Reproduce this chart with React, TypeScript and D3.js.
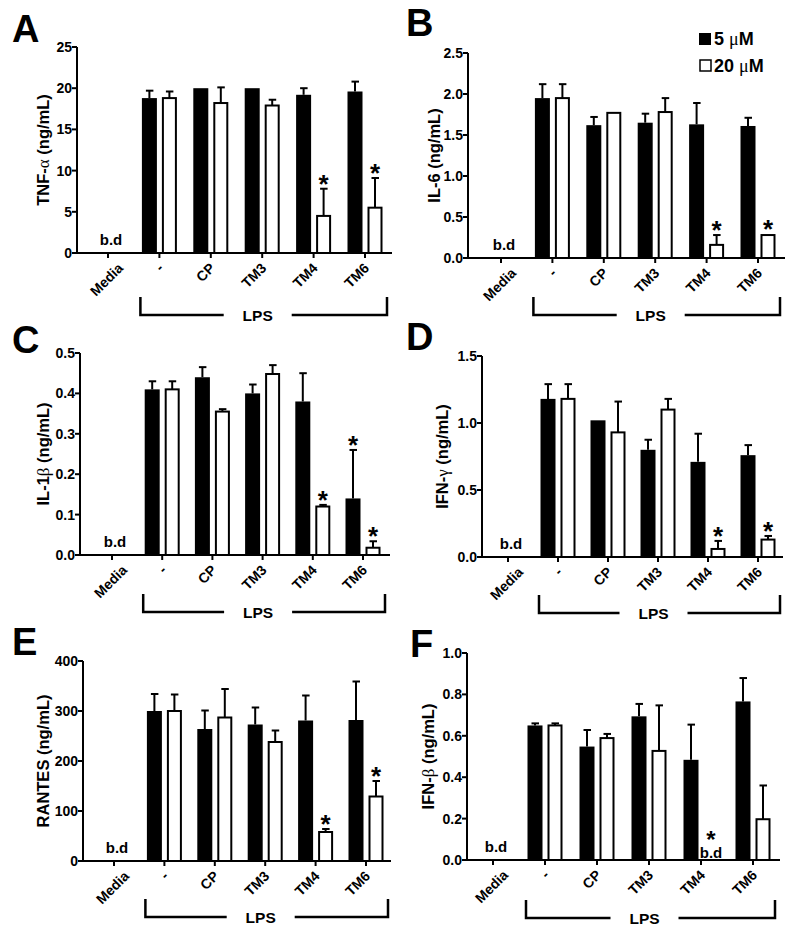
import React from "react";
import * as d3 from "d3";

// ---------- data ----------
const categories = ["Media", "-", "CP", "TM3", "TM4", "TM6"];
const doses = ["5 μM", "20 μM"];

// null = below detection (b.d)
const tnfMean5 = [null, 18.8, 20.0, 20.0, 19.2, 19.6];
const tnfErr5 = [null, 0.9, 0, 0, 0.8, 1.2];
const tnfMean20 = [null, 18.8, 18.2, 17.9, 4.5, 5.5];
const tnfErr20 = [null, 0.8, 1.9, 0.7, 3.3, 3.6];
const tnfStar5 = [false, false, false, false, false, false];
const tnfStar20 = [false, false, false, false, true, true];
const tnfTicks = [0, 5, 10, 15, 20, 25];

const il6Mean5 = [null, 1.95, 1.62, 1.65, 1.63, 1.61];
const il6Err5 = [null, 0.17, 0.1, 0.11, 0.26, 0.1];
const il6Mean20 = [null, 1.95, 1.77, 1.78, 0.16, 0.28];
const il6Err20 = [null, 0.17, 0, 0.17, 0.12, 0.01];
const il6Star5 = [false, false, false, false, false, false];
const il6Star20 = [false, false, false, false, true, true];
const il6Ticks = [0, 0.5, 1.0, 1.5, 2.0, 2.5];

const il1Mean5 = [null, 0.41, 0.44, 0.4, 0.38, 0.14];
const il1Err5 = [null, 0.02, 0.025, 0.022, 0.07, 0.12];
const il1Mean20 = [null, 0.41, 0.355, 0.448, 0.12, 0.018];
const il1Err20 = [null, 0.02, 0.006, 0.022, 0.004, 0.016];
const il1Star5 = [false, false, false, false, false, true];
const il1Star20 = [false, false, false, false, true, true];
const il1Ticks = [0, 0.1, 0.2, 0.3, 0.4, 0.5];

const ifngMean5 = [null, 1.18, 1.02, 0.8, 0.71, 0.76];
const ifngErr5 = [null, 0.11, 0.005, 0.075, 0.21, 0.075];
const ifngMean20 = [null, 1.18, 0.93, 1.1, 0.06, 0.13];
const ifngErr20 = [null, 0.11, 0.23, 0.08, 0.06, 0.027];
const ifngStar5 = [false, false, false, false, false, false];
const ifngStar20 = [false, false, false, false, true, true];
const ifngTicks = [0, 0.5, 1.0, 1.5];

const rantesMean5 = [null, 300, 264, 273, 281, 282];
const rantesErr5 = [null, 34, 37, 34, 50, 77];
const rantesMean20 = [null, 300, 287, 238, 58, 129];
const rantesErr20 = [null, 33, 57, 23, 6, 31];
const rantesStar5 = [false, false, false, false, false, false];
const rantesStar20 = [false, false, false, false, true, true];
const rantesTicks = [0, 100, 200, 300, 400];

const ifnbMean5 = [null, 0.65, 0.548, 0.694, 0.484, 0.766];
const ifnbErr5 = [null, 0.01, 0.08, 0.06, 0.17, 0.113];
const ifnbMean20 = [null, 0.65, 0.589, 0.527, null, 0.197];
const ifnbErr20 = [null, 0.01, 0.02, 0.22, null, 0.163];
const ifnbStar5 = [false, false, false, false, false, false];
const ifnbStar20 = [false, false, false, false, true, false];
const ifnbTicks = [0, 0.2, 0.4, 0.6, 0.8, 1.0];

const panelLetters = ["A", "B", "C", "D", "E", "F"];
const yLabelPre = ["TNF-", "IL-6 (ng/mL)", "IL-1", "IFN-", "RANTES (ng/mL)", "IFN-"];
const yLabelGreek = ["α", "", "β", "γ", "", "β"];
const yLabelPost = [" (ng/mL)", "", " (ng/mL)", " (ng/mL)", "", " (ng/mL)"];
const tickFormats = ["d", ".1f", ".1f", ".1f", "d", ".1f"];
const groupLabel = "LPS";
const bdLabel = "b.d";

// ---------- layout (positions only) ----------
const layouts = [
  { x0: 77, xEnd: 392, c0: 108, c5: 365, yTop: 47, y0: 253, labelX: 43, letterX: 12, letterY: 42, bracketY: 315 },
  { x0: 468, xEnd: 785, c0: 501, c5: 758, yTop: 53, y0: 258, labelX: 434, letterX: 406, letterY: 36, bracketY: 315 },
  { x0: 80, xEnd: 390, c0: 112, c5: 363, yTop: 353, y0: 555, labelX: 43, letterX: 12, letterY: 353, bracketY: 612 },
  { x0: 482, xEnd: 783, c0: 508, c5: 758, yTop: 356, y0: 557, labelX: 442, letterX: 406, letterY: 350, bracketY: 613 },
  { x0: 83, xEnd: 391, c0: 114, c5: 366, yTop: 661, y0: 861, labelX: 43, letterX: 12, letterY: 655, bracketY: 917 },
  { x0: 467, xEnd: 780, c0: 493, c5: 753, yTop: 653, y0: 860, labelX: 428, letterX: 410, letterY: 657, bracketY: 918 },
];

const panelData = [
  { m5: tnfMean5, e5: tnfErr5, m20: tnfMean20, e20: tnfErr20, s5: tnfStar5, s20: tnfStar20, ticks: tnfTicks },
  { m5: il6Mean5, e5: il6Err5, m20: il6Mean20, e20: il6Err20, s5: il6Star5, s20: il6Star20, ticks: il6Ticks },
  { m5: il1Mean5, e5: il1Err5, m20: il1Mean20, e20: il1Err20, s5: il1Star5, s20: il1Star20, ticks: il1Ticks },
  { m5: ifngMean5, e5: ifngErr5, m20: ifngMean20, e20: ifngErr20, s5: ifngStar5, s20: ifngStar20, ticks: ifngTicks },
  { m5: rantesMean5, e5: rantesErr5, m20: rantesMean20, e20: rantesErr20, s5: rantesStar5, s20: rantesStar20, ticks: rantesTicks },
  { m5: ifnbMean5, e5: ifnbErr5, m20: ifnbMean20, e20: ifnbErr20, s5: ifnbStar5, s20: ifnbStar20, ticks: ifnbTicks },
];

const FONT = "'Liberation Sans', Arial, Helvetica, sans-serif";
const SERIF = "'Liberation Serif', 'Times New Roman', serif";

function Panel({ idx }: { idx: number }) {
  const L = layouts[idx];
  const D = panelData[idx];
  const x = d3.scalePoint<string>().domain(categories).range([L.c0, L.c5]);
  const yMax = D.ticks[D.ticks.length - 1];
  const y = d3.scaleLinear().domain([0, yMax]).range([L.y0, L.yTop]);
  const sub = d3.scaleBand<string>().domain(doses).range([-17.5, 17.5]).paddingInner(0.25);
  const bw = sub.bandwidth();
  const fmt = d3.format(tickFormats[idx]);

  const series = [
    { dose: doses[0], m: D.m5, e: D.e5, s: D.s5, filled: true },
    { dose: doses[1], m: D.m20, e: D.e20, s: D.s20, filled: false },
  ];

  const els: any[] = [];

  categories.forEach((c, i) => {
    const cx = x(c)!;
    const bothNull = D.m5[i] == null && D.m20[i] == null;
    if (bothNull) {
      els.push(
        <text key={`bd-${i}`} x={cx + 3} y={L.y0 - 8} textAnchor="middle" fontSize={15} fontWeight="bold" fontFamily={FONT}>
          {bdLabel}
        </text>
      );
      return;
    }
    series.forEach((s, si) => {
      const v = s.m[i];
      const bx = cx + sub(s.dose)!;
      const bc = bx + bw / 2;
      if (v == null) {
        els.push(
          <text key={`bd-${i}-${si}`} x={bc} y={L.y0 - 2} textAnchor="middle" fontSize={15} fontWeight="bold" fontFamily={FONT}>
            {bdLabel}
          </text>
        );
        if (s.s[i]) {
          els.push(
            <text key={`st-${i}-${si}`} x={bc} y={L.y0 - 12} textAnchor="middle" fontSize={24} fontWeight="bold" fontFamily={FONT}>
              *
            </text>
          );
        }
        return;
      }
      const top = y(v);
      if (s.filled) {
        els.push(<rect key={`b-${i}-${si}`} x={bx} y={top} width={bw} height={L.y0 - top} fill="#000" />);
      } else {
        els.push(
          <rect key={`b-${i}-${si}`} x={bx + 1} y={top} width={bw - 2} height={L.y0 - top} fill="#fff" stroke="#000" strokeWidth={2} />
        );
      }
      const e = s.e[i] ?? 0;
      const et = y(v + e);
      if (e > 0 && top - et > 1) {
        els.push(
          <g key={`e-${i}-${si}`} stroke="#000" strokeWidth={2}>
            <line x1={bc} x2={bc} y1={top} y2={et} />
            <line x1={bc - 3.5} x2={bc + 4} y1={et} y2={et} />
          </g>
        );
      }
      if (s.s[i]) {
        els.push(
          <text key={`st-${i}-${si}`} x={bc} y={et + 4} textAnchor="middle" fontSize={26} fontWeight="bold" fontFamily={FONT}>
            *
          </text>
        );
      }
    });
  });

  const left = x(categories[1])! - 19;
  const right = x(categories[categories.length - 1])! + 22;
  const lpsC = (left + right) / 2 - 6;
  const bY = L.bracketY;

  return (
    <g>
      <text x={L.letterX} y={L.letterY} fontSize={38} fontWeight="bold" fontFamily={FONT}>
        {panelLetters[idx]}
      </text>
      <text
        transform={`translate(${L.labelX},${(L.y0 + L.yTop) / 2}) rotate(-90)`}
        textAnchor="middle"
        dominantBaseline="central"
        fontSize={16.5}
        fontWeight="bold"
        fontFamily={FONT}
      >
        {yLabelPre[idx]}
        {yLabelGreek[idx] && (
          <tspan fontFamily={SERIF} fontWeight="normal" fontSize={17}>
            {yLabelGreek[idx]}
          </tspan>
        )}
        {yLabelPost[idx]}
      </text>
      {/* y axis */}
      <line x1={L.x0} x2={L.x0} y1={L.y0} y2={y(yMax)} stroke="#000" strokeWidth={2} />
      {D.ticks.map((t) => (
        <g key={`yt-${t}`}>
          <line x1={L.x0 - 5} x2={L.x0} y1={y(t)} y2={y(t)} stroke="#000" strokeWidth={2} />
          <text x={L.x0 - 5} y={y(t)} dy="0.36em" textAnchor="end" fontSize={14} fontWeight="bold" fontFamily={FONT}>
            {fmt(t)}
          </text>
        </g>
      ))}
      {/* x axis */}
      <line x1={L.x0 - 1} x2={L.xEnd} y1={L.y0} y2={L.y0} stroke="#000" strokeWidth={2} />
      {categories.map((c, i) => {
        const cx = x(c)!;
        const px = cx + 5 + (i === 0 ? 11 : 0);
        const py = L.y0 + 16;
        return (
          <g key={`xt-${i}`}>
            <line x1={cx} x2={cx} y1={L.y0} y2={L.y0 + 5} stroke="#000" strokeWidth={2} />
            <text
              transform={`translate(${px},${py}) rotate(-45)`}
              textAnchor="end"
              fontSize={14}
              fontWeight="bold"
              fontFamily={FONT}
            >
              {c}
            </text>
          </g>
        );
      })}
      {els}
      {/* LPS bracket */}
      <path
        d={`M${left},${bY - 18}V${bY}H${lpsC - 34}M${lpsC + 34},${bY}H${right}V${bY - 18}`}
        fill="none"
        stroke="#000"
        strokeWidth={2.5}
      />
      <text x={lpsC} y={bY + 5.5} textAnchor="middle" fontSize={15.5} fontWeight="bold" fontFamily={FONT}>
        {groupLabel}
      </text>
    </g>
  );
}

function Legend() {
  return (
    <g fontFamily={FONT} fontWeight="bold" fontSize={18}>
      <rect x={699} y={33} width={12} height={12} fill="#000" />
      <text x={714} y={45}>
        5 <tspan fontFamily={SERIF} fontWeight="normal">μ</tspan>M
      </text>
      <rect x={700} y={60} width={11} height={11} fill="#fff" stroke="#000" strokeWidth={1.5} />
      <text x={714} y={72}>
        20 <tspan fontFamily={SERIF} fontWeight="normal">μ</tspan>M
      </text>
    </g>
  );
}

export default function App() {
  return (
    <svg
      width={800}
      height={939}
      viewBox="0 0 800 939"
      style={{ position: "absolute", left: 0, top: 0, background: "#fff" }}
    >
      <rect width={800} height={939} fill="#fff" />
      {layouts.map((_, i) => (
        <Panel key={i} idx={i} />
      ))}
      <Legend />
    </svg>
  );
}
